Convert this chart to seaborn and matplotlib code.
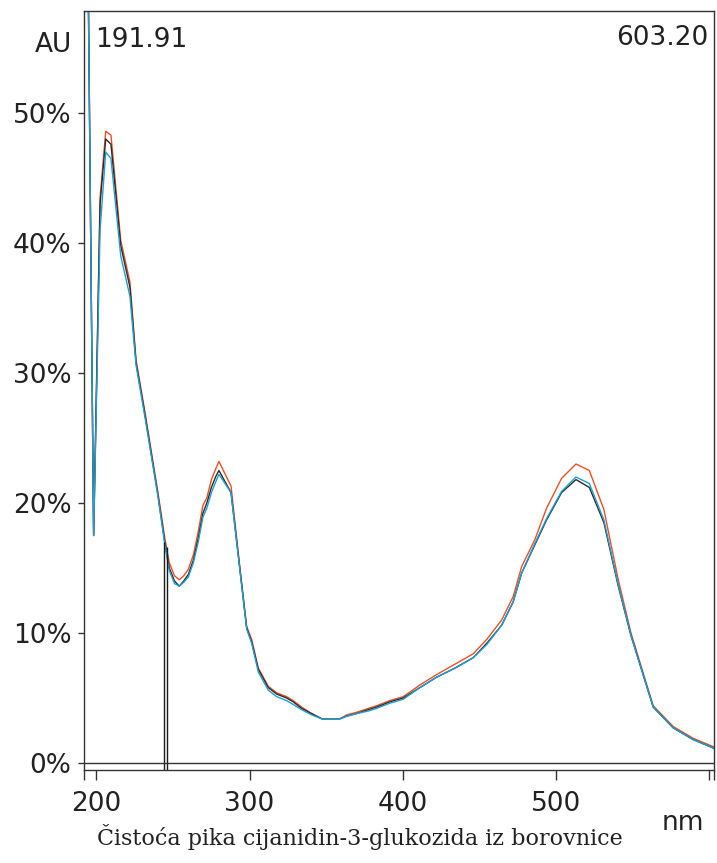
import numpy as np
import pandas as pd
import matplotlib
matplotlib.use("Agg")
import matplotlib.pyplot as plt
import seaborn as sns

# ---------------- data ----------------
wavelength = [194.5, 198.2, 202.4, 206.1, 209.5, 215.9, 221.9, 225.9, 231.7, 240.2,
              244.8, 247.6, 251.0, 254.1, 257.0, 260.0, 263.3, 266.5, 269.5, 272.1,
              275.1, 277.8, 280.0, 287.9, 293.7, 298.1, 301.4, 305.7, 312.2, 317.7,
              324.2, 328.5, 334.0, 340.5, 347.1, 359.0, 363.4, 369.9, 377.5, 382.9,
              391.6, 400.3, 411.2, 422.1, 434.1, 446.0, 454.8, 464.6, 472.1, 477.6,
              486.3, 493.9, 503.7, 513.1, 521.8, 531.3, 540.7, 549.0, 563.5, 576.6,
              589.6, 603.8]
series_orange = [62.0, 17.5, 43.5, 48.6, 48.3, 40.2, 37.0, 31.0, 27.0, 20.8,
                 17.2, 15.4, 14.4, 14.1, 14.4, 14.9, 16.0, 17.8, 19.8, 20.4,
                 21.8, 22.6, 23.2, 21.3, 15.0, 10.5, 9.5, 7.3, 5.9, 5.4,
                 5.1, 4.8, 4.3, 3.8, 3.4, 3.4, 3.7, 3.9, 4.2, 4.4,
                 4.8, 5.1, 6.0, 6.8, 7.6, 8.4, 9.5, 11.0, 12.8, 15.1,
                 17.2, 19.6, 21.9, 23.0, 22.5, 19.5, 14.1, 10.0, 4.4, 2.8,
                 1.9, 1.2]
series_black = [62.0, 17.5, 43.0, 48.0, 47.6, 39.8, 36.6, 30.8, 26.8, 20.6,
                16.9, 15.0, 14.0, 13.6, 14.0, 14.5, 15.6, 17.3, 19.2, 20.0,
                21.2, 22.0, 22.5, 20.8, 14.9, 10.4, 9.3, 7.2, 5.8, 5.3,
                5.0, 4.7, 4.2, 3.8, 3.4, 3.4, 3.6, 3.8, 4.1, 4.3,
                4.7, 5.0, 5.8, 6.6, 7.3, 8.1, 9.2, 10.6, 12.4, 14.6,
                16.8, 18.7, 20.8, 21.8, 21.2, 18.5, 13.6, 9.8, 4.3, 2.7,
                1.8, 1.1]
series_teal = [62.0, 17.5, 41.0, 47.0, 46.5, 39.0, 35.9, 30.6, 26.6, 20.5,
               16.7, 14.8, 13.8, 13.6, 13.9, 14.3, 15.4, 17.0, 18.9, 19.6,
               20.8, 21.6, 22.2, 20.8, 14.8, 10.3, 9.2, 7.0, 5.6, 5.1,
               4.8, 4.5, 4.1, 3.7, 3.4, 3.4, 3.6, 3.8, 4.0, 4.2,
               4.6, 4.9, 5.8, 6.6, 7.3, 8.1, 9.1, 10.6, 12.4, 14.6,
               16.9, 18.8, 20.9, 22.0, 21.5, 18.7, 13.7, 9.8, 4.3, 2.7,
               1.8, 1.1]
series_names = ["orange", "black", "teal"]
series_colors = ["#ee4f22", "#2b2b2b", "#1aa0d8"]

marker_x = [244.1, 246.1]
marker_top = [17.0, 16.6]

x_range = [191.91, 603.20]
y_range = [-0.54, 57.85]
x_ticks = [191.91, 200, 300, 400, 500, 600, 603.20]
x_ticklabels = ["", "200", "300", "400", "500", "", ""]
y_ticks = [0, 10, 20, 30, 40, 50]
y_ticklabels = ["0%", "10%", "20%", "30%", "40%", "50%"]
caption = "Čistoća pika cijanidin-3-glukozida iz borovnice"

df = pd.DataFrame({
    "nm": wavelength * 3,
    "AU": series_orange + series_black + series_teal,
    "series": [s for s in series_names for _ in wavelength],
})

# ---------------- figure ----------------
sns.set_theme(style="ticks")
plt.rcParams["font.family"] = ["DejaVu Sans"]
W, H = 717, 863
fig = plt.figure(figsize=(W / 100, H / 100), dpi=100)
ax = fig.add_axes([84 / W, 1 - 770 / H, (714 - 84) / W, (770 - 11) / H])

sns.lineplot(data=df, x="nm", y="AU", hue="series", hue_order=series_names,
             palette=series_colors, sort=False, errorbar=None, legend=False,
             linewidth=1.0, ax=ax)

ax.vlines(marker_x, ymin=y_range[0] - 1, ymax=marker_top, colors="#1a1a1a", linewidth=1.0)
ax.axhline(0, color="#333333", linewidth=1.0)

ax.set_xlim(x_range)
ax.set_ylim(y_range)
ax.set_xticks(x_ticks)
ax.set_xticklabels(x_ticklabels)
ax.set_yticks(y_ticks)
ax.set_yticklabels(y_ticklabels)
ax.set_xlabel("")
ax.set_ylabel("")

for sp in ax.spines.values():
    sp.set_visible(True)
    sp.set_color("#333333")
    sp.set_linewidth(1.0)

ax.tick_params(axis="x", direction="out", length=7, width=1.0, color="#333333", pad=8,
               labelsize=19, labelcolor="#222222")
ax.tick_params(axis="y", direction="out", length=4, width=1.0, color="#333333", pad=5,
               labelsize=19, labelcolor="#222222")

tc = "#222222"
fig.text(72 / W, 1 - 45 / H, "AU", ha="right", va="center", fontsize=19, color=tc)
fig.text(95 / W, 1 - 40 / H, f"{x_range[0]:.2f}", ha="left", va="center", fontsize=19, color=tc)
fig.text(708 / W, 1 - 38 / H, f"{x_range[1]:.2f}", ha="right", va="center", fontsize=19, color=tc)
fig.text(662 / W, 1 - 830 / H, "nm", ha="left", va="baseline", fontsize=19, color=tc)
fig.text(360 / W, 1 - 845 / H, caption, ha="center", va="baseline", fontsize=16,
         color=tc, family=["DejaVu Serif"])

fig.savefig("out.png", dpi=100)
